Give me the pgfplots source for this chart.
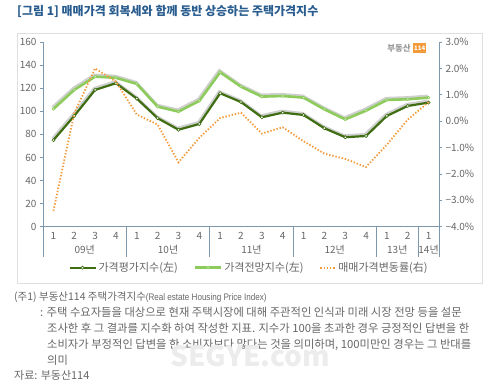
\documentclass[border=0pt]{standalone}
\usepackage{pgfplots}
\pgfplotsset{compat=1.18}
\usepackage{fontspec}
\setmainfont{Noto Sans CJK KR}
\newfontfamily\latinnarrow[FakeStretch=0.85]{Liberation Sans}
\definecolor{titleblue}{HTML}{2A5D8F}
\definecolor{axiscol}{HTML}{7D98AD}
\definecolor{dgreen}{HTML}{3F6E12}
\definecolor{lgreen}{HTML}{8DCC5C}
\definecolor{dorange}{HTML}{F39A3A}
\definecolor{tgray}{HTML}{666666}
\definecolor{shadowc}{HTML}{A8A8A8}
\begin{document}
\begin{tikzpicture}
\path[use as bounding box] (0pt,0pt) rectangle (500pt,386pt);
% title
\node[anchor=base west, font=\fontsize{12}{14}\selectfont\bfseries, text=titleblue, inner sep=0] at (17pt,370pt) {[그림 1] 매매가격 회복세와 함께 동반 상승하는 주택가격지수};
% outer frame
\draw[gray!25, line width=0.8pt] (17pt,353pt) rectangle (482pt,103pt);
% logo
\node[anchor=east, font=\fontsize{8.5}{9}\selectfont\bfseries, text=gray!80, inner sep=0] at (411pt,338pt) {부동산};
\node[anchor=west, fill=dorange, text=white, font=\fontsize{6}{7}\selectfont\bfseries, inner sep=1pt, minimum width=9pt, minimum height=10pt] at (413pt,338pt) {114};

\begin{axis}[
  at={(43pt,159.3pt)}, anchor=south west,
  width=396pt, height=184.7pt, scale only axis,
  xmin=-0.5, xmax=18.5, ymin=0, ymax=160,
  axis x line*=bottom, axis y line*=left,
  axis line style={axiscol, line width=0.8pt},
  xtick=data,
  xticklabels={1,2,3,4,1,2,3,4,1,2,3,4,1,2,3,4,1,2,1},
  xtick style={draw=none},
  ytick={0,20,...,160},
  y tick style={axiscol, line width=0.6pt},
  major tick length=3pt, tick align=outside,
  /pgf/number format/assume math mode=true,
  tick label style={font=\fontsize{10}{12}\selectfont, text=tgray},
  xticklabel style={yshift=1pt},
  clip=false,
  legend image code/.code={\draw[mark repeat=2,mark phase=2,#1] plot coordinates {(0pt,0pt) (13pt,0pt) (26pt,0pt)};},
  legend style={at={(axis description cs:0.5,0)}, anchor=center, xshift=8pt, yshift=-41pt,
    draw=none, fill=none, font=\fontsize{11}{12}\selectfont, text=tgray,
    /tikz/every even column/.append style={column sep=14pt}},
  legend columns=3,
  legend cell align=left,
]
% shadows
\addplot[shadowc, line width=3pt, opacity=0.55, xshift=-0.8pt, yshift=1.5pt, forget plot] coordinates {
(0,75) (1,96) (2,118.5) (3,124.3) (4,111) (5,94) (6,84) (7,89) (8,115.6) (9,108) (10,94.8) (11,98.8) (12,96.8) (13,85.3) (14,77.5) (15,78.6) (16,96) (17,104.6) (18,107.5)};
\addplot[shadowc, line width=3.2pt, opacity=0.55, xshift=-0.8pt, yshift=1.5pt, forget plot] coordinates {
(0,102) (1,118.5) (2,130) (3,129) (4,123.7) (5,104) (6,99.7) (7,109) (8,133.8) (9,121.3) (10,112.7) (11,113.2) (12,111.8) (13,101.7) (14,93) (15,100.5) (16,109.8) (17,110.4) (18,111.8)};
% evaluation index
\addplot[dgreen, line width=2.2pt, mark=*, mark size=1.6pt, mark options={fill=white, draw=dgreen, line width=0.6pt}] coordinates {
(0,75) (1,96) (2,118.5) (3,124.3) (4,111) (5,94) (6,84) (7,89) (8,115.6) (9,108) (10,94.8) (11,98.8) (12,96.8) (13,85.3) (14,77.5) (15,78.6) (16,96) (17,104.6) (18,107.5)};
\addlegendentry{가격평가지수(左)}
% outlook index
\addplot[lgreen, line width=2.6pt, mark=*, mark size=1.4pt, mark options={fill=lgreen!40, draw=lgreen, line width=0.5pt}] coordinates {
(0,102) (1,118.5) (2,130) (3,129) (4,123.7) (5,104) (6,99.7) (7,109) (8,133.8) (9,121.3) (10,112.7) (11,113.2) (12,111.8) (13,101.7) (14,93) (15,100.5) (16,109.8) (17,110.4) (18,111.8)};
\addlegendentry{가격전망지수(左)}
\addlegendimage{legend image code/.code={\draw[dorange, line width=1.8pt, dash pattern=on 1.4pt off 1.8pt] (0pt,0pt) -- (15pt,0pt);}}
\addlegendentry{매매가격변동률(右)}
% separators
\draw[axiscol, line width=0.8pt] (axis cs:-0.5,0) -- ++(0pt,-30pt);
\draw[axiscol, line width=0.8pt] (axis cs:3.5,0) -- ++(0pt,-30pt);
\draw[axiscol, line width=0.8pt] (axis cs:7.5,0) -- ++(0pt,-30pt);
\draw[axiscol, line width=0.8pt] (axis cs:11.5,0) -- ++(0pt,-30pt);
\draw[axiscol, line width=0.8pt] (axis cs:15.5,0) -- ++(0pt,-30pt);
\draw[axiscol, line width=0.8pt] (axis cs:17.5,0) -- ++(0pt,-30pt);
\draw[axiscol, line width=0.8pt] (axis cs:18.5,0) -- ++(0pt,-30pt);
\node[font=\fontsize{10}{12}\selectfont, text=tgray] at (axis cs:1.5,0) [yshift=-23pt] {09년};
\node[font=\fontsize{10}{12}\selectfont, text=tgray] at (axis cs:5.5,0) [yshift=-23pt] {10년};
\node[font=\fontsize{10}{12}\selectfont, text=tgray] at (axis cs:9.5,0) [yshift=-23pt] {11년};
\node[font=\fontsize{10}{12}\selectfont, text=tgray] at (axis cs:13.5,0) [yshift=-23pt] {12년};
\node[font=\fontsize{10}{12}\selectfont, text=tgray] at (axis cs:16.5,0) [yshift=-23pt] {13년};
\node[font=\fontsize{10}{12}\selectfont, text=tgray] at (axis cs:18,0) [yshift=-23pt] {14년};
\end{axis}

\begin{axis}[
  at={(43pt,159.3pt)}, anchor=south west,
  width=396pt, height=184.7pt, scale only axis,
  xmin=-0.5, xmax=18.5, ymin=-4, ymax=3,
  axis x line=none, axis y line*=right,
  axis line style={axiscol, line width=0.8pt},
  ytick={-4,-3,-2,-1,0,1,2,3},
  yticklabels={−4.0\%,−3.0\%,−2.0\%,−1.0\%,0.0\%,1.0\%,2.0\%,3.0\%},
  y tick style={axiscol, line width=0.6pt},
  major tick length=3pt, tick align=outside,
  tick label style={font=\fontsize{10}{12}\selectfont, text=tgray},
  clip=false,
]
\addplot[dorange, line width=1.8pt, dash pattern=on 1.4pt off 1.8pt] coordinates {
(0,-3.4) (1,0.3) (2,2.0) (3,1.5) (4,0.25) (5,-0.13) (6,-1.56) (7,-0.63) (8,0.12) (9,0.32) (10,-0.47) (11,-0.23) (12,-0.76) (13,-1.23) (14,-1.43) (15,-1.74) (16,-0.89) (17,0.06) (18,0.72)};
\end{axis}

% footnotes
\node[anchor=base west, inner sep=0, text=tgray, font=\fontsize{10.5}{12}\selectfont] at (14pt,86pt) {(주1) 부동산114 주택가격지수{\latinnarrow\fontsize{9.5}{12}\selectfont(Real estate Housing Price Index)}};
\node[anchor=base west, inner sep=0, text=tgray, font=\fontsize{11.3}{12}\selectfont] at (40pt,70pt) {: 주택 수요자들을 대상으로 현재 주택시장에 대해 주관적인 인식과 미래 시장 전망 등을 설문};
\node[anchor=base west, inner sep=0, text=tgray, font=\fontsize{11.3}{12}\selectfont] at (47pt,54pt) {조사한 후 그 결과를 지수화 하여 작성한 지표. 지수가 100을 초과한 경우 긍정적인 답변을 한};
\node[anchor=base west, inner sep=0, text=tgray, font=\fontsize{11.3}{12}\selectfont] at (47pt,38pt) {소비자가 부정적인 답변을 한 소비자보다 많다는 것을 의미하며, 100미만인 경우는 그 반대를};
\node[anchor=base west, inner sep=0, text=tgray, font=\fontsize{11.3}{12}\selectfont] at (47pt,22pt) {의미};
\node[anchor=base west, inner sep=0, text=tgray, font=\fontsize{11}{12}\selectfont] at (14pt,7pt) {자료: 부동산114};
\node[font=\fontsize{28}{30}\selectfont\bfseries, text=gray!15, inner sep=0] at (250pt,30pt) {SEGYE.com};
\end{tikzpicture}
\end{document}
